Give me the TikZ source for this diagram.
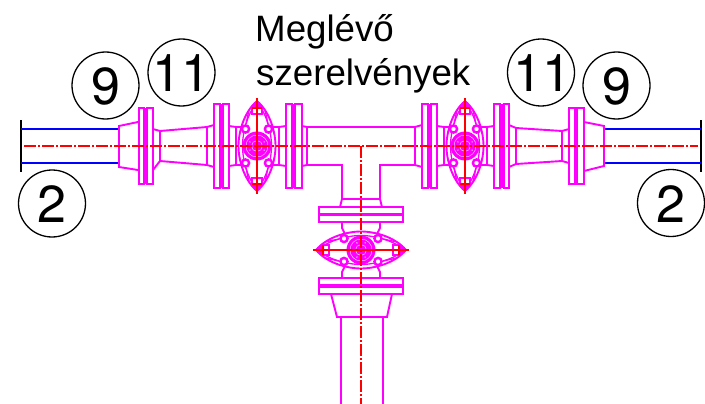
\documentclass[tikz,border=0pt]{standalone}
\usepackage{fontspec}
\setmainfont{Liberation Sans}
\newfontfamily\digitfont{TeX Gyre Heros}
\definecolor{mag}{HTML}{FF00FF}
\definecolor{rd}{HTML}{FF0000}
\definecolor{bl}{HTML}{0000FF}
\newcommand{\vflange}[6]{%
  \draw[pipe] (#1,#5) rectangle (#2,#6);
  \draw[pipe] (#3,#5) rectangle (#4,#6);
  \fill[mag] (#2,#5) rectangle (#3,#6);}
\newcommand{\hflange}[6]{%
  \draw[pipe] (#5,#1) rectangle (#6,#2);
  \draw[pipe] (#5,#3) rectangle (#6,#4);
  \fill[mag] (#5,#2) rectangle (#6,#3);}
\newcommand{\callnum}[2]{\smash{\kern#1\makebox[0pt]{\raisebox{-19.5pt}{#2}}\kern-#1}}
\tikzset{
  pipe/.style={draw=mag,line width=1.9pt},
  thin pipe/.style={draw=mag,line width=1.3pt},
  axis/.style={draw=rd,line width=1.5pt,dash pattern=on 12pt off 2pt on 2pt off 2pt},
  solidaxis/.style={draw=rd,line width=1.5pt},
  blue pipe/.style={draw=bl,line width=1.9pt},
  endbar/.style={draw=black,line width=1.5pt},
  callout/.style={circle,draw=black,line width=1.3pt,minimum size=67pt,inner sep=0pt,font=\digitfont\fontsize{52}{52}\selectfont},
  caption/.style={anchor=base west,inner sep=0pt,font=\fontsize{36.7}{40}\selectfont},
  valve/.pic={
    \draw[pipe] (0,-45) .. controls (13,-34) and (18.5,-14) .. (18.5,0) .. controls (18.5,14) and (13,34) .. (0,45)
      .. controls (-13,34) and (-18.5,14) .. (-18.5,0) .. controls (-18.5,-14) and (-13,-34) .. (0,-45) -- cycle;
    \draw[thin pipe] (0,-43) .. controls (9,-34) and (14.5,-14) .. (14.5,0) .. controls (14.5,14) and (9,34) .. (0,43)
      .. controls (-9,34) and (-14.5,14) .. (-14.5,0) .. controls (-14.5,-14) and (-9,-34) .. (0,-43) -- cycle;
    \fill[mag] (0,-45) .. controls (4,-42) .. (8,-37) -- (-8,-37) .. controls (-4,-42) .. cycle;
    \fill[mag] (0,45) .. controls (4,42) .. (8,37) -- (-8,37) .. controls (-4,42) .. cycle;
    \draw[thin pipe] (-5,-38) rectangle (5,-32);
    \draw[thin pipe] (-5,38) rectangle (5,32);
    \draw[thin pipe] (-8,-36) -- (-11,-22); \draw[thin pipe] (8,-36) -- (11,-22);
    \draw[thin pipe] (-8,36) -- (-11,22); \draw[thin pipe] (8,36) -- (11,22);
    \foreach \sx in {-11.5,11.5} \foreach \sy in {-17,17} {
      \draw[pipe,fill=white,line width=2.4pt] (\sx,\sy) circle (3.6);
    }
    \fill[mag] (0,0) circle (14.5);
    \draw[white,line width=0.35pt] (0,0) circle (11);
    \draw[white,line width=0.35pt] (0,0) circle (5.5);
    \foreach \a in {30,90,150,210,270,330} \fill[white] (\a:8.2) circle (0.7);
    \draw[solidaxis] (0,-48) -- (0,48);
    \draw[solidaxis] (-5,-38) -- (5,-38);
    \draw[solidaxis] (-5,38) -- (5,38);
  }
}
\begin{document}
\begin{tikzpicture}[x=1pt,y=-1pt]
\useasboundingbox (0,0) rectangle (705,404);

% end bars and blue pipes
\draw[endbar] (21,120) -- (21,172);
\draw[endbar] (701,120) -- (701,172);
\draw[blue pipe] (21,129) -- (119,129);
\draw[blue pipe] (21,163) -- (119,163);
\draw[blue pipe] (604,129) -- (701,129);
\draw[blue pipe] (604,163) -- (701,163);

% left reducer and cone
\draw[pipe] (138,122) -- (119,126) -- (119,167) -- (138,170);
\vflange{139}{144}{147}{153}{108}{184}
\draw[pipe] (153,129) -- (160,131) -- (207,127) -- (214,125);
\draw[pipe] (153,170) -- (160,161) -- (207,165) -- (214,167);
\draw[pipe] (153,129) -- (153,170);
\draw[pipe] (160,131) -- (160,161);
\draw[pipe] (207,127) -- (207,165);
\vflange{214}{220}{223}{229}{104}{188}

% left valve connections
\draw[pipe] (229,126) -- (236,127) -- (243,127);
\draw[pipe] (229,166) -- (236,165) -- (243,165);
\draw[pipe] (236,127) -- (236,165);
\draw[pipe] (271,127) -- (279,127) -- (286,126);
\draw[pipe] (271,165) -- (279,165) -- (286,166);
\draw[pipe] (279,127) -- (279,165);
\vflange{286}{292}{295}{302}{104}{188}
\pic at (257,146) {valve};

% tee
\draw[pipe] (302,126) -- (307,127) -- (415,127) -- (422,125);
\draw[pipe] (302,166) -- (307,165) -- (342,165) -- (342,199) -- (340,207);
\draw[pipe] (307,127) -- (307,165);
\draw[pipe] (422,167) -- (415,165) -- (380,165) -- (380,199) -- (382,207);
\draw[pipe] (415,127) -- (415,165);
\draw[pipe] (342,199) -- (380,199);

% right valve
\vflange{422}{428}{431}{437}{104}{188}
\draw[pipe] (437,126) -- (444,127) -- (451,127);
\draw[pipe] (437,166) -- (444,165) -- (451,165);
\draw[pipe] (444,127) -- (444,165);
\draw[pipe] (479,127) -- (487,127) -- (494,126);
\draw[pipe] (479,165) -- (487,165) -- (494,166);
\draw[pipe] (487,127) -- (487,165);
\vflange{494}{500}{504}{509}{104}{188}
\pic at (465,146) {valve};

% right cone and reducer
\draw[pipe] (509,125) -- (516,128) -- (562,131) -- (569,129);
\draw[pipe] (509,167) -- (516,164) -- (562,161) -- (569,163);
\draw[pipe] (516,128) -- (516,164);
\draw[pipe] (562,131) -- (562,161);
\vflange{569}{575}{577}{584}{108}{184}
\draw[pipe] (584,122) -- (604,126) -- (604,166) -- (584,171);

% branch valve
\hflange{207}{214}{215}{222}{319}{403}
\draw[pipe] (342,222) -- (342,228) -- (345,234);
\draw[pipe] (380,222) -- (380,228) -- (377,234);
\pic[rotate=90] at (361,250) {valve};
\draw[pipe] (345,266) -- (342,272) -- (342,278);
\draw[pipe] (377,266) -- (380,272) -- (380,278);
\hflange{278}{285}{287}{294}{319}{403}
\draw[pipe] (331,294) -- (337,317) -- (387,317) -- (392,294);
\draw[pipe] (341,317) -- (341,404);
\draw[pipe] (383,317) -- (383,404);

% centre lines
\draw[axis] (24,146) -- (698,146);
\draw[axis] (361,146) -- (361,404);
\draw[solidaxis] (314,250) -- (409,250);

% callouts
\node[callout] (nineL) at (105.5,85.5) {\callnum{0pt}{9}};
\node[callout] (elevenL) at (181.5,72.5) {\callnum{-0.5pt}{11}};
\node[callout] (twoL) at (52,203.5) {\callnum{0pt}{2}};
\node[callout] (elevenR) at (541,72.5) {\callnum{1.5pt}{11}};
\node[callout] (nineR) at (616.5,85.5) {\callnum{0.5pt}{9}};
\node[callout] (twoR) at (671,203) {\callnum{0pt}{2}};

% caption
\node[caption] (capA) at (255,42) {Meglévő};
\node[caption] (capB) at (256,86) {szerelvények};
\end{tikzpicture}
\end{document}
